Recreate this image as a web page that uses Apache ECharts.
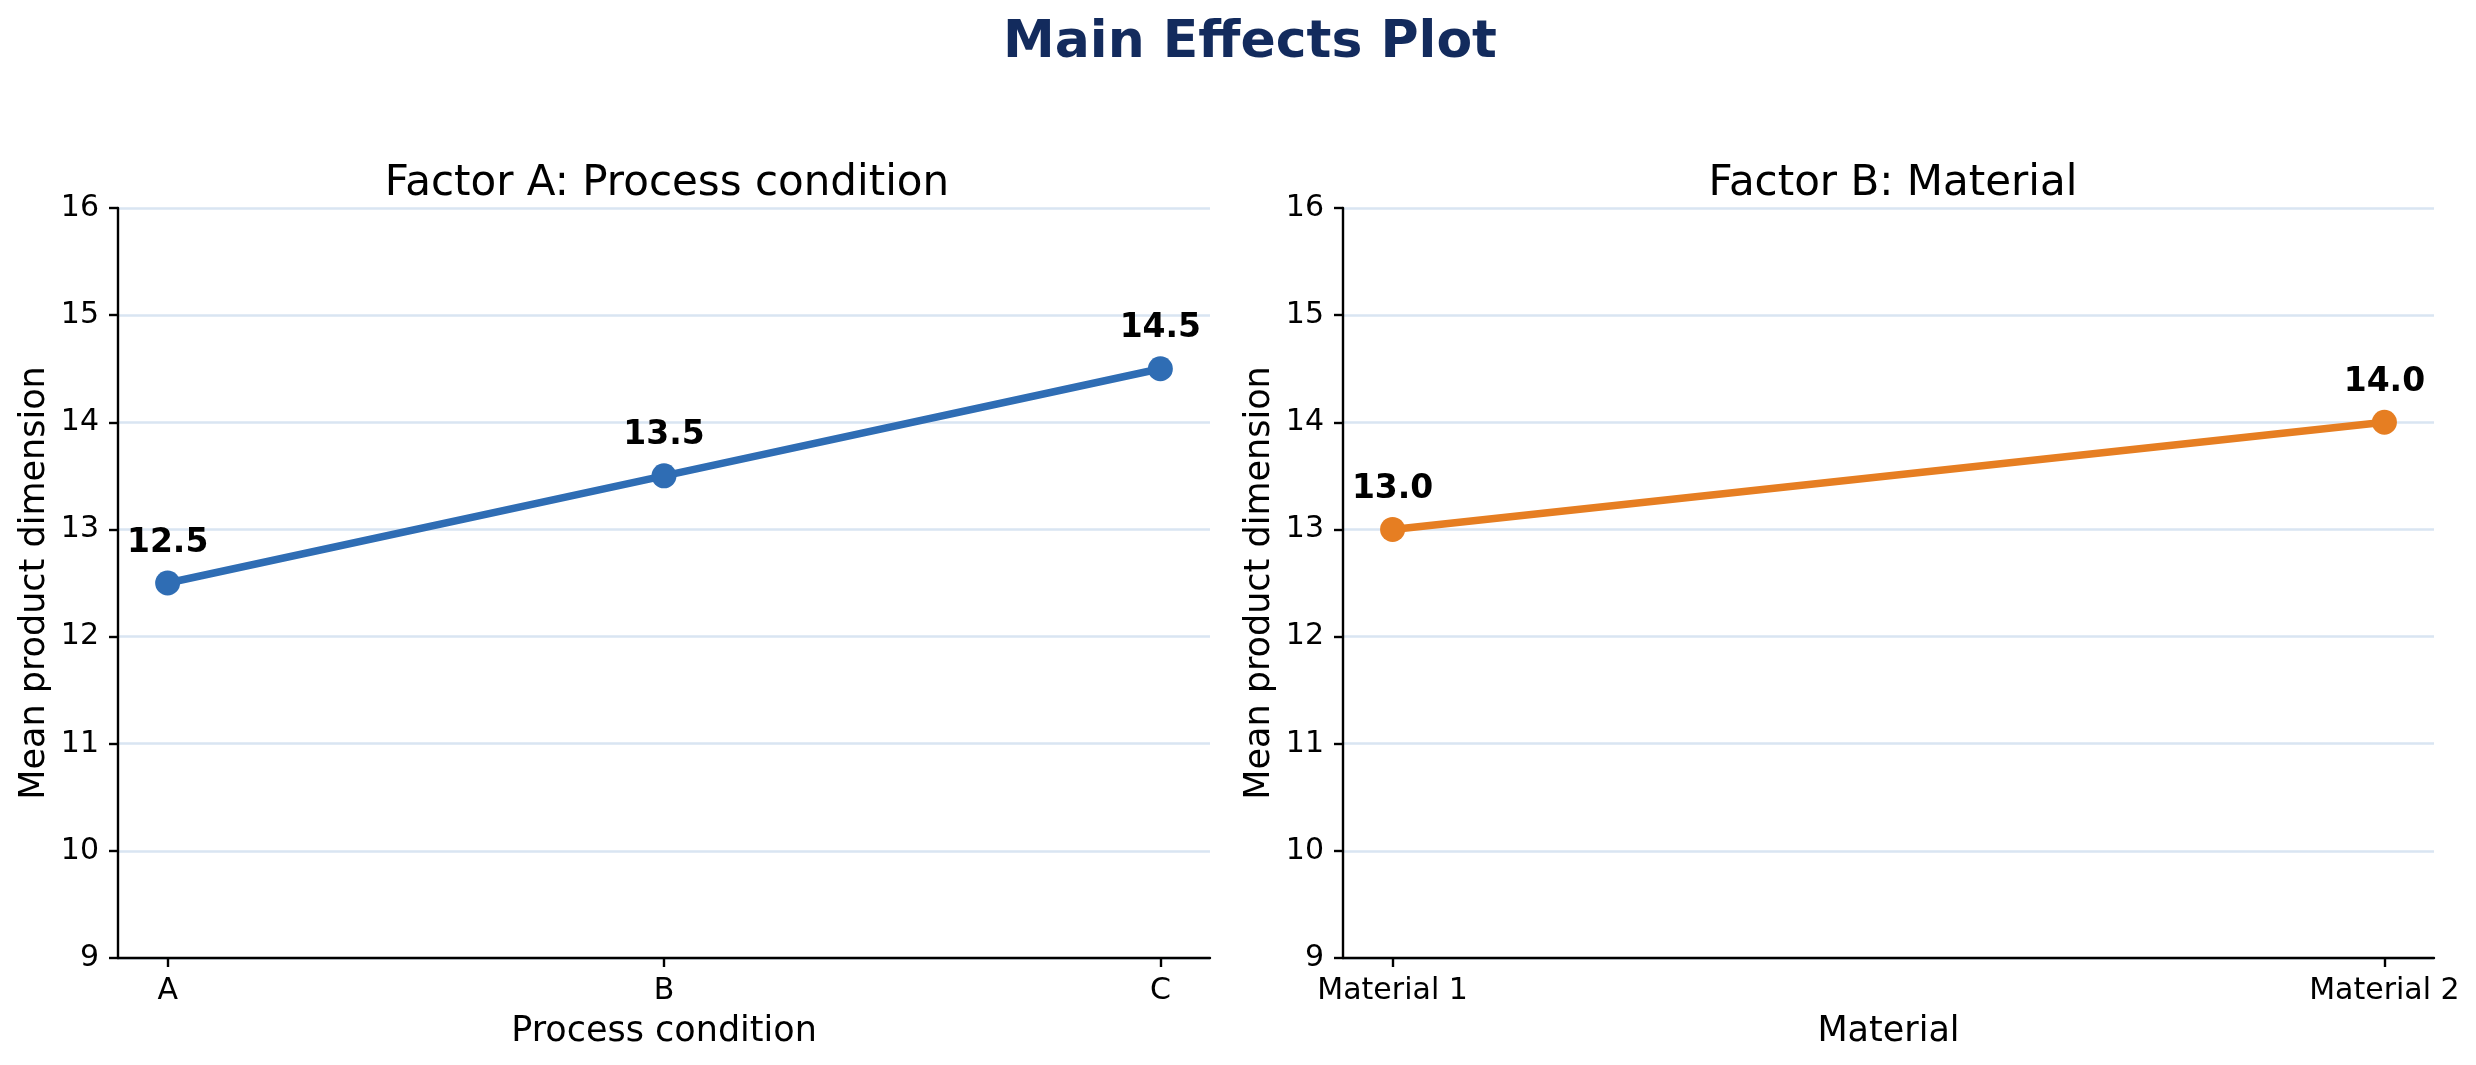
<!DOCTYPE html>
<html>
<head>
<meta charset="utf-8">
<title>Main Effects Plot</title>
<script src="https://cdn.jsdelivr.net/npm/echarts@6/dist/echarts.min.js"></script>
<style>
  html, body { margin: 0; padding: 0; background: #fff; }
  #chart { width: 2476px; height: 1065px; }
</style>
</head>
<body>
<div id="chart"></div>
<script>
// factor levels and their mean responses
const levelsA = ['A', 'B', 'C']
const meansA = [12.5, 13.5, 14.5]
const levelsB = ['Material 1', 'Material 2']
const meansB = [13.0, 14.0]
const yTicks = { min: 9, max: 16, step: 1 }

const FONT = '"DejaVu Sans", sans-serif'
const blue = '#2f6db4'
const orange = '#e67e22'

const chart = echarts.init(document.getElementById('chart'))

function xAxisFor(levels, gridIndex, name) {
  const idx = levels.map((_, i) => i)
  const pad = (levels.length - 1) * 0.05
  return {
    type: 'value',
    gridIndex,
    min: -pad,
    max: levels.length - 1 + pad,
    name,
    nameLocation: 'middle',
    nameGap: 56,
    nameTextStyle: { fontFamily: FONT, fontSize: 35, color: '#000' },
    axisLine: { show: true, onZero: false, lineStyle: { color: '#000', width: 2.4 } },
    axisTick: { show: true, customValues: idx, length: 9, lineStyle: { color: '#000', width: 2.4 } },
    axisLabel: {
      customValues: idx,
      margin: 18,
      fontFamily: FONT, fontSize: 30, color: '#000',
      formatter: v => levels[Math.round(v)]
    },
    splitLine: { show: false }
  }
}

function yAxisFor(gridIndex) {
  return {
    type: 'value',
    gridIndex,
    min: yTicks.min,
    max: yTicks.max,
    interval: yTicks.step,
    name: 'Mean product dimension',
    nameLocation: 'middle',
    nameRotate: 90,
    nameGap: 66,
    nameTextStyle: { fontFamily: FONT, fontSize: 35, color: '#000' },
    axisLine: { show: true, onZero: false, lineStyle: { color: '#000', width: 2.4 } },
    axisTick: { show: true, length: 9, lineStyle: { color: '#000', width: 2.4 } },
    axisLabel: { margin: 19, fontFamily: FONT, fontSize: 30, color: '#000' },
    splitLine: { show: true, lineStyle: { color: '#d9e5f2', width: 2.6 } }
  }
}

function lineSeries(means, color, gridIndex) {
  return {
    type: 'line',
    xAxisIndex: gridIndex,
    yAxisIndex: gridIndex,
    data: means.map((m, i) => [i, m]),
    symbol: 'circle',
    symbolSize: 25,
    lineStyle: { color, width: 7.5 },
    itemStyle: { color },
    label: {
      show: true,
      position: 'top',
      distance: 11,
      fontFamily: FONT, fontSize: 33, fontWeight: 'bold', color: '#000',
      formatter: p => p.value[1].toFixed(1)
    },
    animation: false
  }
}

chart.setOption({
  backgroundColor: '#fff',
  title: [
    {
      text: 'Main Effects Plot',
      left: 1245, top: 12, textAlign: 'center',
      textStyle: { fontFamily: FONT, fontSize: 52, fontWeight: 'bold', color: '#132b5d' }
    },
    {
      text: 'Factor A: Process condition',
      left: 662, top: 158, textAlign: 'center',
      textStyle: { fontFamily: FONT, fontSize: 42, fontWeight: 'normal', color: '#000' }
    },
    {
      text: 'Factor B: Material',
      left: 1888, top: 158, textAlign: 'center',
      textStyle: { fontFamily: FONT, fontSize: 42, fontWeight: 'normal', color: '#000' }
    }
  ],
  grid: [
    { left: 118, right: 1266, top: 208, bottom: 107 },
    { left: 1343, right: 42, top: 208, bottom: 107 }
  ],
  xAxis: [
    xAxisFor(levelsA, 0, 'Process condition'),
    xAxisFor(levelsB, 1, 'Material')
  ],
  yAxis: [yAxisFor(0), yAxisFor(1)],
  series: [
    lineSeries(meansA, blue, 0),
    lineSeries(meansB, orange, 1)
  ]
})

window.addEventListener('resize', () => chart.resize())
</script>
</body>
</html>
